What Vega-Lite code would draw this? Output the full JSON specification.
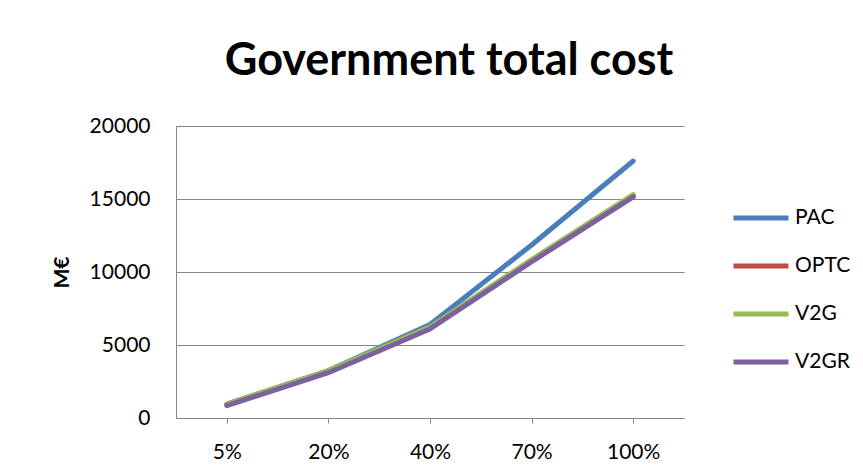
{
  "$schema": "https://vega.github.io/schema/vega-lite/v6.json",
  "width": 508,
  "height": 292,
  "autosize": {"type": "none"},
  "padding": {"left": 176, "top": 126, "right": 179, "bottom": 57},
  "background": "white",
  "title": {
    "text": "Government total cost",
    "font": "Lato",
    "fontSize": 45,
    "fontWeight": "bold",
    "color": "#000000",
    "anchor": "middle",
    "baseline": "alphabetic",
    "offset": 51,
    "dy": 56,
    "dx": 19
  },
  "config": {
    "font": "Lato",
    "view": {"stroke": null},
    "axis": {
      "domainColor": "#868686",
      "gridColor": "#868686",
      "tickColor": "#868686",
      "labelColor": "#000000",
      "labelFont": "Lato",
      "labelFontSize": 21
    }
  },
  "data": {
    "values": [
      {"share": "5%", "scheme": "PAC", "cost": 950},
      {"share": "20%", "scheme": "PAC", "cost": 3250},
      {"share": "40%", "scheme": "PAC", "cost": 6400},
      {"share": "70%", "scheme": "PAC", "cost": 11850},
      {"share": "100%", "scheme": "PAC", "cost": 17600},
      {"share": "5%", "scheme": "OPTC", "cost": 900},
      {"share": "20%", "scheme": "OPTC", "cost": 3150},
      {"share": "40%", "scheme": "OPTC", "cost": 6200},
      {"share": "70%", "scheme": "OPTC", "cost": 10750},
      {"share": "100%", "scheme": "OPTC", "cost": 15200},
      {"share": "5%", "scheme": "V2G", "cost": 950},
      {"share": "20%", "scheme": "V2G", "cost": 3250},
      {"share": "40%", "scheme": "V2G", "cost": 6250},
      {"share": "70%", "scheme": "V2G", "cost": 10850},
      {"share": "100%", "scheme": "V2G", "cost": 15300},
      {"share": "5%", "scheme": "V2GR", "cost": 850},
      {"share": "20%", "scheme": "V2GR", "cost": 3100},
      {"share": "40%", "scheme": "V2GR", "cost": 6100},
      {"share": "70%", "scheme": "V2GR", "cost": 10700},
      {"share": "100%", "scheme": "V2GR", "cost": 15150}
    ]
  },
  "mark": {"type": "line", "strokeWidth": 5, "strokeCap": "round", "strokeJoin": "round"},
  "encoding": {
    "x": {
      "field": "share",
      "type": "ordinal",
      "sort": ["5%", "20%", "40%", "70%", "100%"],
      "scale": {"type": "point", "padding": 0.5},
      "axis": {
        "title": null,
        "labelAngle": 0,
        "tickSize": 5,
        "labelPadding": 18,
        "grid": false
      }
    },
    "y": {
      "field": "cost",
      "type": "quantitative",
      "scale": {"domain": [0, 20000], "nice": false},
      "axis": {
        "title": "M€",
        "titleFont": "Lato",
        "titleFontSize": 21,
        "titleFontWeight": "bold",
        "titleColor": "#000000",
        "titleAngle": -90,
        "titleX": -114,
        "titleY": 146,
        "titleAlign": "center",
        "titleBaseline": "middle",
        "values": [0, 5000, 10000, 15000, 20000],
        "format": "d",
        "tickSize": 0,
        "labelPadding": 26,
        "grid": true
      }
    },
    "color": {
      "field": "scheme",
      "type": "nominal",
      "sort": ["PAC", "OPTC", "V2G", "V2GR"],
      "scale": {
        "domain": ["PAC", "OPTC", "V2G", "V2GR"],
        "range": ["#4A7EBB", "#BE4B48", "#98B954", "#7D60A0"]
      },
      "legend": {
        "title": null,
        "orient": "none",
        "legendX": 555,
        "legendY": 84,
        "padding": 0,
        "symbolType": "stroke",
        "symbolSize": 3025,
        "symbolStrokeWidth": 5,
        "clipHeight": 16,
        "rowPadding": 27,
        "labelOffset": 4,
        "labelFont": "Lato",
        "labelFontSize": 21,
        "labelColor": "#000000"
      }
    },
    "order": {"field": "scheme"}
  }
}
